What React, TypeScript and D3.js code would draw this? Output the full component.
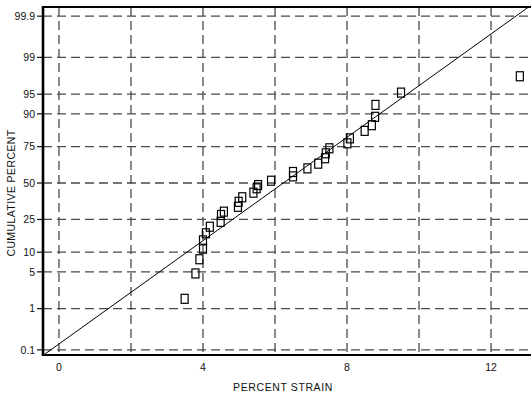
import React from 'react';
import * as d3 from 'd3';

const W = 531;
const H = 394;
const PLOT = { left: 43, right: 531, top: 7, bottom: 355 };

// measured data (percent strain vs cumulative percent)
const strain = [3.49, 3.79, 3.9, 4.0, 4.0, 4.08, 4.19, 4.49, 4.5, 4.58, 4.97, 4.99, 5.09, 5.4, 5.49, 5.53,
  5.89, 6.5, 6.5, 6.9, 7.2, 7.39, 7.41, 7.51, 8.01, 8.08, 8.49, 8.69, 8.78, 8.79, 9.5, 12.8];
const cumPercent = [1.6, 4.7, 7.9, 11.2, 14.4, 17.6, 20.9, 23.6, 27.7, 29.8, 33.0, 36.4, 39.6, 42.9, 46.1, 48.5,
  51.7, 54.9, 58.1, 60.7, 64.0, 67.7, 70.9, 74.0, 76.9, 79.6, 83.3, 85.8, 89.0, 92.6, 95.3, 97.6];

const yTicks = [0.1, 1, 5, 10, 25, 50, 75, 90, 95, 99, 99.9];
const xGrid = [0, 2, 4, 6, 8, 10, 12];
const xLabels = [0, 4, 8, 12];

// fitted normal line
const FIT_MEAN = 6.23;
const FIT_SD = 2.09;

/**
 * Inverse standard normal CDF (Acklam)
 * @param  {number} p probability 0..1
 * @return {number}   z score
 */
function probit(p: number) {
  const a = [-39.69683028665376, 220.9460984245205, -275.9285104469687, 138.357751867269, -30.66479806614716, 2.506628277459239];
  const b = [-54.47609879822406, 161.5858368580409, -155.6989798598866, 66.80131188771972, -13.28068155288572];
  const c = [-0.007784894002430293, -0.3223964580411365, -2.400758277161838, -2.549732539343734, 4.374664141464968, 2.938163982698783];
  const d = [0.007784695709041462, 0.3224671290700398, 2.445134137142996, 3.754408661907416];
  const pl = 0.02425;
  let q, r;
  if (p < pl) {
    q = Math.sqrt(-2 * Math.log(p));
    return (((((c[0] * q + c[1]) * q + c[2]) * q + c[3]) * q + c[4]) * q + c[5]) / ((((d[0] * q + d[1]) * q + d[2]) * q + d[3]) * q + 1);
  }
  if (p > 1 - pl) {
    q = Math.sqrt(-2 * Math.log(1 - p));
    return -(((((c[0] * q + c[1]) * q + c[2]) * q + c[3]) * q + c[4]) * q + c[5]) / ((((d[0] * q + d[1]) * q + d[2]) * q + d[3]) * q + 1);
  }
  q = p - 0.5;
  r = q * q;
  return (((((a[0] * r + a[1]) * r + a[2]) * r + a[3]) * r + a[4]) * r + a[5]) * q / (((((b[0] * r + b[1]) * r + b[2]) * r + b[3]) * r + b[4]) * r + 1);
}

export default function App() {
  const x = d3.scaleLinear().domain([-0.444, 13.11]).range([PLOT.left, PLOT.right]);
  const z = d3.scaleLinear().domain([-3.185, 3.26]).range([PLOT.bottom, PLOT.top]);
  const y = (pct: number) => z(probit(pct / 100));

  const xd = x.domain();
  const fitPath = d3.line<number>()
    .x((v) => x(v))
    .y((v) => z((v - FIT_MEAN) / FIT_SD))(xd);

  const font = 'Arial, "Liberation Sans", Helvetica, sans-serif';
  const dash = '9,5';

  return <svg width={W} height={H} style={{ position: 'absolute', left: 0, top: 0, background: '#fff' }}
    fontFamily={font}>
    <defs>
      <clipPath id='plotClip'>
        <rect x={PLOT.left} y={PLOT.top} width={PLOT.right - PLOT.left} height={PLOT.bottom - PLOT.top} />
      </clipPath>
    </defs>

    {/* grid */}
    <g stroke='#4a4a4a' strokeWidth={1.3} strokeDasharray={dash}>
      {xGrid.map((v) =>
        <line key={'vx' + v} x1={x(v)} x2={x(v)} y1={PLOT.top} y2={PLOT.bottom} />
      )}
      {yTicks.map((p) =>
        <line key={'hy' + p} x1={PLOT.left} x2={PLOT.right} y1={y(p)} y2={y(p)} />
      )}
    </g>

    {/* y ticks and labels */}
    <g>
      {yTicks.map((p) =>
        <g key={'yt' + p}>
          <line x1={PLOT.left - 6} x2={PLOT.left} y1={y(p)} y2={y(p)} stroke='#222' strokeWidth={1.3} />
          <text x={35} y={y(p)} dy='0.35em' textAnchor='end' fontSize={10.5} fill='#111'>{p}</text>
        </g>
      )}
    </g>

    {/* x labels */}
    {xLabels.map((v) =>
      <text key={'xl' + v} x={x(v)} y={371} textAnchor='middle' fontSize={10.5} fill='#111'>{v}</text>
    )}

    {/* fit line */}
    <path d={fitPath || ''} fill='none' stroke='#000' strokeWidth={1} clipPath='url(#plotClip)' />

    {/* data points */}
    <g fill='none' stroke='#000' strokeWidth={1.2}>
      {strain.map((s, i) =>
        <rect key={i} x={x(s) - 3.5} y={y(cumPercent[i]) - 4.5} width={7} height={9} />
      )}
    </g>

    {/* frame */}
    <line x1={PLOT.left} x2={PLOT.right} y1={PLOT.top} y2={PLOT.top} stroke='#000' strokeWidth={2.2} />
    <line x1={PLOT.left} x2={PLOT.right} y1={PLOT.bottom} y2={PLOT.bottom} stroke='#000' strokeWidth={2.2} />
    <line x1={PLOT.left} x2={PLOT.left} y1={PLOT.top - 1} y2={PLOT.bottom + 1} stroke='#000' strokeWidth={2.6} />

    {/* titles */}
    <text x={283} y={391} textAnchor='middle' fontSize={10.5} letterSpacing={0.6} fill='#111'>PERCENT STRAIN</text>
    <text transform={`translate(15,${193}) rotate(-90)`} textAnchor='middle' fontSize={10.5} letterSpacing={0.4}
      fill='#111'>CUMULATIVE PERCENT</text>
  </svg>;
}
